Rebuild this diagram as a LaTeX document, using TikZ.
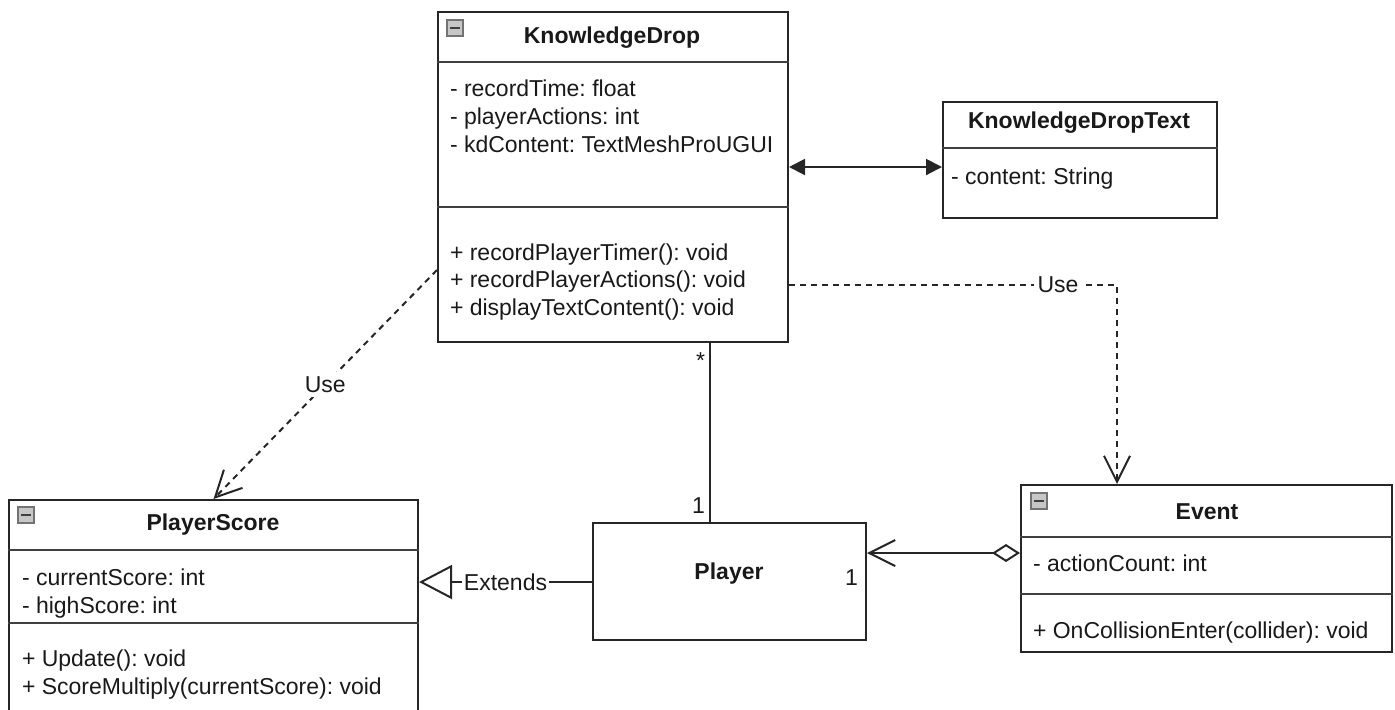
\documentclass[tikz,border=0pt]{standalone}
\usepackage{fontspec}
\setmainfont{Liberation Sans}
\usetikzlibrary{arrows.meta}
\frenchspacing

\begin{document}
\begin{tikzpicture}[x=0.5pt,y=-0.5pt,line width=1pt,font=\fontsize{11.5}{13.5}\selectfont]
    		\tikzstyle{class}=[draw=black!85,rectangle,inner sep=0pt]
    		\tikzstyle{title}=[font=\fontsize{11.5}{13.5}\selectfont\bfseries,inner sep=0pt,text=black!90]
    		\tikzstyle{member}=[anchor=west,inner sep=0pt,text height=10pt,text depth=2pt,text=black!90]
    		\tikzstyle{divider}=[draw=black!75]
    		\tikzstyle{minus}=[draw=black!55,fill=black!22,minimum size=8pt,inner sep=0pt,line width=0.6pt,
    		  path picture={\draw[black!75,line width=1.1pt] ([xshift=1.5pt]path picture bounding box.west) -- ([xshift=-1.5pt]path picture bounding box.east);}]
    		\tikzstyle{link}=[draw=black!85]
    		\tikzstyle{use}=[link,dash pattern=on 3pt off 2.5pt,-{Straight Barb[length=13pt,width=13pt]}]
    		\tikzstyle{annot}=[inner sep=2pt,text=black!90]
    		
    		\clip (0,0) rectangle (1395,709);
    		
    		% KnowledgeDrop
    		\node[class,minimum width=175pt,minimum height=165pt] (KD) at (613,177) {};
    		\draw[divider] (KD.west |- 0,62) -- (KD.east |- 0,62);
    		\draw[divider] (KD.west |- 0,207) -- (KD.east |- 0,207);
    		\node[minus] (KD-icon) at (455,28) {};
    		\node[title] (KD-title) at (612,38) {KnowledgeDrop};
    		\node[member] (KD-a1) at (449,88) {- recordTime: float};
    		\node[member] (KD-a2) at (449,116) {- playerActions: int};
    		\node[member] (KD-a3) at (449,144) {- kdContent: TextMeshProUGUI};
    		\node[member] (KD-m1) at (449,252) {+ recordPlayerTimer(): void};
    		\node[member] (KD-m2) at (449,279) {+ recordPlayerActions(): void};
    		\node[member] (KD-m3) at (449,307) {+ displayTextContent(): void};
    		
    		% KnowledgeDropText
    		\node[class,minimum width=137pt,minimum height=58pt] (KDT) at (1080,160) {};
    		\draw[divider] (KDT.west |- 0,148) -- (KDT.east |- 0,148);
    		\node[title] (KDT-title) at (1079,123) {KnowledgeDropText};
    		\node[member] (KDT-a1) at (950,176) {- content: String};
    		
    		% PlayerScore
    		\node[class,minimum width=204.5pt,minimum height=115pt] (PS) at (213.5,615) {};
    		\draw[divider] (PS.west |- 0,550) -- (PS.east |- 0,550);
    		\draw[divider] (PS.west |- 0,623) -- (PS.east |- 0,623);
    		\node[minus] (PS-icon) at (26,515) {};
    		\node[title] (PS-title) at (213,525) {PlayerScore};
    		\node[member] (PS-a1) at (21,577) {- currentScore: int};
    		\node[member] (PS-a2) at (21,605) {- highScore: int};
    		\node[member] (PS-m1) at (21,658) {+ Update(): void};
    		\node[member] (PS-m2) at (21,686) {+ ScoreMultiply(currentScore): void};
    		
    		% Player
    		\node[class,minimum width=136.5pt,minimum height=58.5pt] (P) at (729.5,581.5) {};
    		\node[title] (P-title) at (729,574) {Player};
    		
    		% Event
    		\node[class,minimum width=185.5pt,minimum height=83.5pt] (E) at (1206.5,568.5) {};
    		\draw[divider] (E.west |- 0,537) -- (E.east |- 0,537);
    		\draw[divider] (E.west |- 0,594) -- (E.east |- 0,594);
    		\node[minus] (E-icon) at (1039,501) {};
    		\node[title] (E-title) at (1207,512) {Event};
    		\node[member] (E-a1) at (1032,563) {- actionCount: int};
    		\node[member] (E-m1) at (1032,630) {+ OnCollisionEnter(collider): void};
    		
    		% relations
    		\draw[link,{Triangle[length=8pt,width=8pt]}-{Triangle[length=8pt,width=8pt]}] (KD.east |- 0,167) -- (KDT.west |- 0,167);
    		\draw[use] (KD.west |- 0,270) -- (PS.north) node[midway,fill=white,annot] {Use};
    		\draw[use] (KD.east |- 0,285) -| (E.north -| 1117,0) node[pos=0.41,fill=white,annot] {Use};
    		\draw[link] (KD.south -| 710,0) -- (P.north -| 710,0)
    		  node[pos=0.1,left,annot] {*}
    		  node[pos=0.91,left,annot] {1};
    		\draw[link,-{Triangle[open,length=16.5pt,width=17pt]}] (P.west |- 0,582) -- (PS.east |- 0,582)
    		  node[midway,fill=white,inner sep=1pt,text=black!90] {Extends};
    		\draw[link,{Diamond[open,length=14pt,width=9pt]}-{Straight Barb[length=13pt,width=13pt]}] (E.west |- 0,553) -- (P.east |- 0,553)
    		  node[pos=1,anchor=north east,xshift=-2pt,yshift=-6pt,annot] {1};
    		
    	\end{tikzpicture}
\end{document}
